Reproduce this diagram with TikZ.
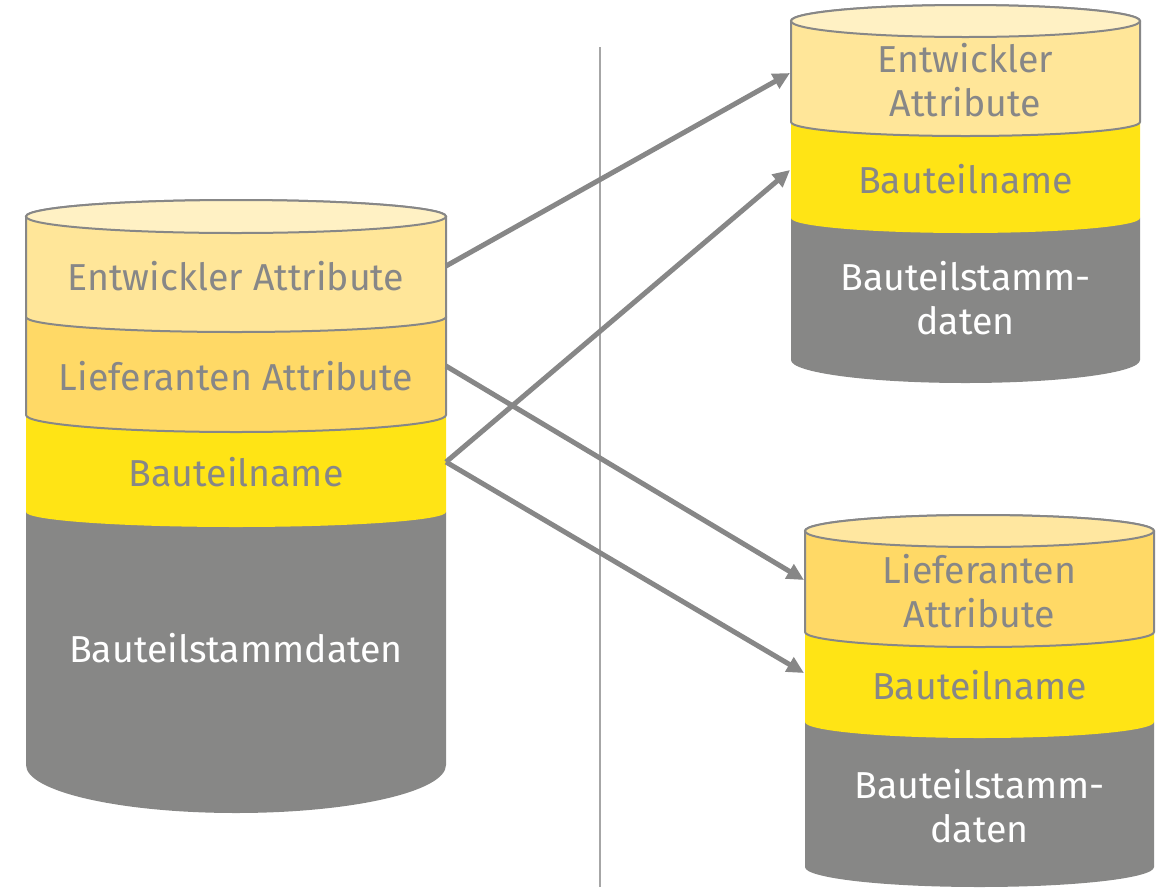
\documentclass[tikz,border=0pt]{standalone}
\usepackage{fontspec}
\setmainfont{Fira Sans}
\usetikzlibrary{arrows.meta}
\definecolor{capE}{HTML}{FFF1C4}
\definecolor{layE}{HTML}{FFE699}
\definecolor{capL}{HTML}{FFE7A0}
\definecolor{layL}{HTML}{FFD966}
\definecolor{layY}{HTML}{FFE415}
\definecolor{layG}{HTML}{878786}
\definecolor{edgec}{HTML}{878787}
\definecolor{txtc}{HTML}{878787}
\definecolor{sepc}{HTML}{A6A6A6}
\newcommand{\cyllayer}[7]{%
  \pgfmathsetmacro\rxx{(#2-#1)/2}%
  \path[#7] (#1,-#3) -- (#1,-#4) arc[start angle=180,end angle=360,x radius=\rxx,y radius=#6] -- (#2,-#3) arc[start angle=0,end angle=180,x radius=\rxx,y radius=#5] -- cycle;%
}
\tikzset{
  outl/.style={draw=edgec,line width=2pt,fill=#1},
  plain/.style={fill=#1},
  lbl/.style={text=txtc,font=\fontsize{37.5}{44}\selectfont,align=center,inner sep=0pt},
  wlbl/.style={lbl,text=white},
  conn/.style={draw=edgec,line width=5pt,-{Triangle[length=17pt,width=16pt]}},
  sepline/.style={draw=sepc,line width=1.5pt}
}
\begin{document}
\begin{tikzpicture}[x=1pt,y=1pt]
\useasboundingbox (0,0) rectangle (1163,-887);
% separator
\coordinate (s1) at (600,-47);
\coordinate (s2) at (600,-887);
\draw[sepline] (s1) -- (s2);
% left cylinder
\cyllayer{26}{446}{512}{765}{15}{48}{plain=layG}
\cyllayer{26}{446}{415}{512}{17}{15}{plain=layY}
\cyllayer{26}{446}{317}{415}{15}{17}{outl=layL}
\cyllayer{26}{446}{216.5}{317}{16.5}{15}{outl=layE}
\draw[outl=capE] (236,-216.5) ellipse[x radius=210,y radius=16.5];
% right top cylinder
\cyllayer{791}{1140}{218}{360}{15}{23}{plain=layG}
\cyllayer{791}{1140}{122}{218}{14}{15}{plain=layY}
\cyllayer{791}{1140}{21}{122}{16}{14}{outl=layE}
\draw[outl=capE] (965.5,-21) ellipse[x radius=174.5,y radius=16];
% right bottom cylinder
\cyllayer{805}{1154}{722}{867}{16}{20}{plain=layG}
\cyllayer{805}{1154}{632}{722}{15}{16}{plain=layY}
\cyllayer{805}{1154}{531}{632}{16}{15}{outl=layL}
\draw[outl=capL] (979.5,-531) ellipse[x radius=174.5,y radius=16];
% labels
\node[lbl] (le) at (236,-276) {Entwickler Attribute};
\node[lbl] (ll) at (236,-376) {Lieferanten Attribute};
\node[lbl] (ly) at (236,-472) {Bauteilname};
\node[wlbl] (lg) at (236,-648) {Bauteilstammdaten};
\node[lbl] (re) at (965.5,-80) {Entwickler\\Attribute};
\node[lbl] (ry) at (965.5,-179) {Bauteilname};
\node[wlbl] (rg) at (965.5,-298) {Bauteilstamm-\\daten};
\node[lbl] (bl) at (979.5,-591) {Lieferanten\\Attribute};
\node[lbl] (by) at (979.5,-685) {Bauteilname};
\node[wlbl] (bg) at (979.5,-806) {Bauteilstamm-\\daten};
% connectors
\coordinate (Ls1) at (446,-266);
\coordinate (Ls2) at (446,-366);
\coordinate (Ls3) at (446,-462);
\coordinate (RTa) at (790,-73);
\coordinate (RTb) at (790,-170);
\coordinate (RBa) at (804,-580);
\coordinate (RBb) at (804,-673);
\draw[conn] (Ls1) -- (RTa);
\draw[conn] (Ls3) -- (RTb);
\draw[conn] (Ls2) -- (RBa);
\draw[conn] (Ls3) -- (RBb);
\end{tikzpicture}
\end{document}
